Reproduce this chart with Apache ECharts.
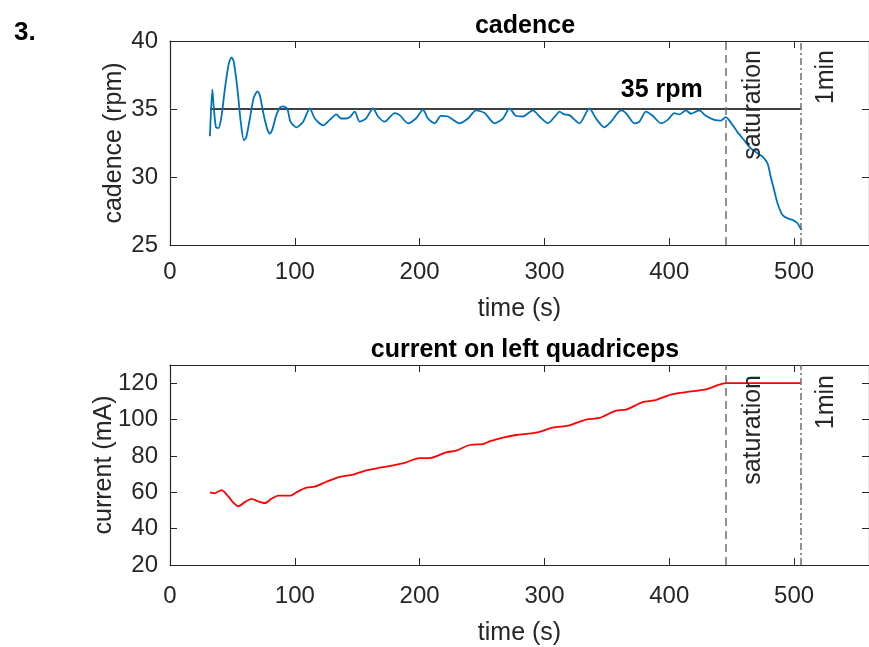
<!DOCTYPE html>
<html>
<head>
<meta charset="utf-8">
<script src="https://cdn.jsdelivr.net/npm/echarts@6/dist/echarts.min.js"></script>
<style>
html,body{margin:0;padding:0;background:#fff;}
#chart{width:869px;height:647px;}
</style>
</head>
<body>
<div id="chart"></div>
<script>
// ---- data ----
const cadenceTime = [32, 33.9, 35, 36.8, 38.7, 41, 44, 47, 49.3, 51, 54, 56.5, 59.2, 61, 64, 67, 70.1, 72, 75, 78, 80, 82, 85, 88, 90.7, 94, 96.5, 101.3, 106.7, 112, 116, 122.7, 128, 133.3, 137, 140, 144, 148, 152, 157, 162.7, 166.7, 172, 180, 184, 190.7, 197, 202.7, 206.7, 212, 217, 222.7, 232, 238.7, 245.3, 252, 260, 266.7, 272, 277, 282.7, 290.7, 296, 302.7, 309.3, 312, 316, 320, 328, 336, 341.3, 348, 353.3, 361.3, 365.3, 372, 376, 381.3, 386.7, 393.3, 398.7, 404, 408, 413.3, 417.3, 424, 429.3, 436, 441.3, 445.3, 449.3, 454.7, 460, 465.3, 470.7, 474.7, 478.7, 481.3, 484, 486.7, 490.7, 494.7, 498.7, 502.7, 505.3, 506];
const cadenceValues = [33.0, 36.45, 35.2, 33.65, 33.6, 34.3, 36.5, 38.3, 38.8, 38.5, 36.5, 34.2, 32.7, 32.9, 34.3, 35.8, 36.3, 36.0, 34.6, 33.5, 33.2, 33.5, 34.5, 35.1, 35.2, 35.0, 34.07, 33.65, 34.07, 35.05, 34.3, 33.8, 34.2, 34.6, 34.3, 34.3, 34.4, 34.8, 34.07, 34.3, 35.05, 34.45, 34.07, 34.7, 34.55, 33.95, 34.3, 34.93, 34.3, 33.95, 34.5, 34.45, 33.95, 34.3, 34.9, 34.7, 33.95, 34.3, 35.05, 34.5, 34.45, 34.9, 34.45, 33.95, 34.55, 34.8, 34.6, 34.55, 33.95, 35.05, 34.3, 33.65, 34.07, 34.9, 34.7, 33.95, 34.07, 34.8, 34.5, 33.95, 34.2, 34.7, 34.6, 34.9, 34.65, 34.9, 34.5, 34.2, 34.15, 34.4, 34.0, 33.3, 32.7, 32.1, 31.75, 31.5, 31.0, 30.0, 29.04, 28.07, 27.2, 26.96, 26.85, 26.6, 26.2, 26.1];

const targetTime = [32, 506];
const targetValues = [35, 35];
const targetLabel = '35 rpm';

const currentTime = [32, 36, 41.3, 46.7, 50.5, 54.7, 60, 65.3, 70.7, 76, 81.3, 86.7, 96.7, 101.3, 109.3, 116, 125.3, 136, 146.7, 157.3, 168, 178.7, 188, 200, 208, 221.3, 229.3, 240, 250.7, 256, 266.7, 277.3, 293.3, 306.7, 320, 333.3, 344, 357.3, 365.3, 378.7, 388, 402.7, 416, 429.3, 445.3, 505.3];
const currentValues = [60, 59.5, 61.2, 57.7, 54.5, 52.3, 54.6, 56.4, 55, 54.05, 56.4, 58.2, 58.2, 60, 62.5, 63.1, 65.8, 68.5, 69.7, 72.1, 73.5, 74.8, 76.2, 78.8, 78.8, 82, 82.9, 86, 86.5, 88, 90.1, 91.5, 92.8, 95.5, 96.8, 100, 100.9, 104.9, 105.4, 109.6, 110.5, 114, 115.3, 116.6, 120, 120];

const saturationTime = 445.5;
const oneMinTime = 505.5;
const eventLabels = ['saturation', '1min'];

const titles = ['cadence', 'current on left quadriceps'];
const yNames = ['cadence (rpm)', 'current (mA)'];
const xName = 'time (s)';
const panelLabel = '3.';

// ---- chart ----
const AX = '#262626';
const FONT = 'Liberation Sans, Arial, Helvetica, sans-serif';
const zip = (a, b) => a.map((v, i) => [v, b[i]]);

function xAx(grid, pos, labels, margin, gap) {
  return {
    type: 'value', gridIndex: grid, position: pos, min: 0, max: 560, interval: 100,
    name: labels ? xName : '', nameLocation: 'middle', nameGap: gap || 50, nameMoveOverlap: false,
    nameTextStyle: { fontSize: 25, color: AX, fontFamily: FONT },
    axisLine: { show: true, onZero: false, lineStyle: { color: AX, width: 1.2 } },
    axisTick: { show: true, inside: true, length: 7, lineStyle: { color: AX } },
    axisLabel: { show: labels, fontSize: 24, color: AX, fontFamily: FONT, margin: margin || 14, showMaxLabel: false },
    splitLine: { show: false }
  };
}
function yAx(grid, pos, labels, min, max, interval, name, gap) {
  return {
    type: 'value', gridIndex: grid, position: pos, min: min, max: max, interval: interval,
    name: labels ? name : '', nameLocation: 'middle', nameGap: gap || 44, nameRotate: 90, nameMoveOverlap: false,
    nameTextStyle: { fontSize: 25, color: AX, fontFamily: FONT },
    axisLine: { show: true, onZero: false, lineStyle: { color: AX, width: 1.2 } },
    axisTick: { show: true, inside: true, length: 7, lineStyle: { color: AX } },
    axisLabel: { show: labels, fontSize: 24, color: AX, fontFamily: FONT, margin: 12,
      formatter: v => (v === 130 ? '' : String(v)) },
    splitLine: { show: false }
  };
}

function eventLines() {
  return {
    silent: true, symbol: 'none', label: { show: false },
    data: [
      { xAxis: saturationTime, lineStyle: { color: '#6e6e6e', type: [8, 5], width: 1.5 } },
      { xAxis: oneMinTime, lineStyle: { color: '#6e6e6e', type: [7, 3, 2, 3], width: 1.5 } }
    ]
  };
}
function eventTexts(yTop) {
  const lab = { show: true, position: 'inside', rotate: 90, align: 'right', verticalAlign: 'middle',
    fontSize: 25, color: AX, fontFamily: FONT };
  return {
    silent: true, symbol: 'circle', symbolSize: 0,
    data: [
      { coord: [467, yTop], label: Object.assign({}, lab, { formatter: eventLabels[0] }) },
      { coord: [526, yTop], label: Object.assign({}, lab, { formatter: eventLabels[1] }) }
    ]
  };
}

const chart = echarts.init(document.getElementById('chart'), null, { renderer: 'canvas' });
chart.setOption({
  animation: false,
  backgroundColor: '#fff',
  textStyle: { fontFamily: FONT },
  title: [
    { text: titles[0], left: 520, top: 9, textAlign: 'center',
      textStyle: { fontSize: 25, fontWeight: 'bold', color: '#000', fontFamily: FONT } },
    { text: titles[1], left: 520, top: 333, textAlign: 'center',
      textStyle: { fontSize: 25, fontWeight: 'bold', color: '#000', fontFamily: FONT } },
    { text: panelLabel, left: 9, top: 15,
      textStyle: { fontSize: 26, fontWeight: 'bold', color: '#000', fontFamily: FONT } }
  ],
  grid: [
    { left: 170, top: 41, width: 700, height: 204 },
    { left: 170, top: 365, width: 700, height: 203 }
  ],
  xAxis: [xAx(0, 'bottom', true, 15, 52), xAx(0, 'top', false), xAx(1, 'bottom', true, 19, 56), xAx(1, 'top', false)],
  yAxis: [
    yAx(0, 'left', true, 25, 40, 5, yNames[0], 43), yAx(0, 'right', false, 25, 40, 5, ''),
    yAx(1, 'left', true, 20, 130, 20, yNames[1], 53), yAx(1, 'right', false, 20, 130, 20, '')
  ],
  series: [
    {
      type: 'line', xAxisIndex: 0, yAxisIndex: 0, data: zip(targetTime, targetValues),
      showSymbol: false, lineStyle: { color: '#000', width: 1.6 }, z: 3,
      markPoint: {
        silent: true, symbol: 'circle', symbolSize: 0,
        data: [{ coord: [394, 35], label: { show: true, position: 'top', distance: 6, formatter: targetLabel,
          fontSize: 25, fontWeight: 'bold', color: '#000', fontFamily: FONT } }]
      }
    },
    {
      type: 'line', xAxisIndex: 0, yAxisIndex: 0, data: zip(cadenceTime, cadenceValues),
      showSymbol: false, smooth: 0.25, lineStyle: { color: '#0072BD', width: 1.8 }, z: 4,
      markLine: eventLines(), markPoint: eventTexts(39.34)
    },
    {
      type: 'line', xAxisIndex: 2, yAxisIndex: 2, data: zip(currentTime, currentValues),
      showSymbol: false, smooth: 0.25, lineStyle: { color: '#FF0000', width: 1.8 }, z: 4,
      markLine: eventLines(), markPoint: eventTexts(124.5)
    }
  ]
});
</script>
</body>
</html>
